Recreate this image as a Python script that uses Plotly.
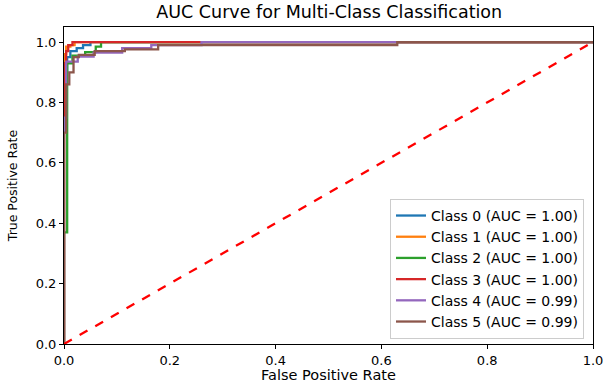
import plotly.graph_objects as go

class_names = ["Class 0", "Class 1", "Class 2", "Class 3", "Class 4", "Class 5"]
auc_values = [1.00, 1.00, 1.00, 1.00, 0.99, 0.99]
colors = ["#1f77b4", "#ff7f0e", "#2ca02c", "#d62728", "#9467bd", "#8c564b"]

fpr_0 = [0.0, 0.0, 0.006, 0.006, 0.012, 0.012, 0.024, 0.024, 0.036, 0.036, 0.05, 0.05, 1.0]
tpr_0 = [0.0, 0.90, 0.90, 0.95, 0.95, 0.97, 0.97, 0.98, 0.98, 0.99, 0.99, 1.0, 1.0]

fpr_1 = [0.0, 0.0, 0.004, 0.004, 0.012, 0.012, 0.02, 0.02, 1.0]
tpr_1 = [0.0, 0.96, 0.96, 0.985, 0.985, 0.99, 0.99, 1.0, 1.0]

fpr_2 = [0.0, 0.0, 0.006, 0.006, 0.016, 0.016, 0.04, 0.04, 0.06, 0.06, 0.07, 0.07, 1.0]
tpr_2 = [0.0, 0.37, 0.37, 0.93, 0.93, 0.955, 0.955, 0.967, 0.967, 0.985, 0.985, 1.0, 1.0]

fpr_3 = [0.0, 0.0, 0.004, 0.004, 0.008, 0.008, 0.016, 0.016, 1.0]
tpr_3 = [0.0, 0.93, 0.93, 0.97, 0.97, 0.99, 0.99, 1.0, 1.0]

fpr_4 = [0.0, 0.0, 0.004, 0.004, 0.026, 0.026, 0.056, 0.056, 0.11, 0.11, 0.165, 0.165, 0.26, 0.26, 1.0]
tpr_4 = [0.0, 0.75, 0.75, 0.935, 0.935, 0.952, 0.952, 0.965, 0.965, 0.98, 0.98, 0.99, 0.99, 1.0, 1.0]

fpr_5 = [0.0, 0.0, 0.004, 0.004, 0.01, 0.01, 0.018, 0.018, 0.028, 0.028, 0.058, 0.058,
         0.115, 0.115, 0.178, 0.178, 0.63, 0.63, 1.0]
tpr_5 = [0.0, 0.70, 0.70, 0.86, 0.86, 0.90, 0.90, 0.95, 0.95, 0.958, 0.958, 0.97,
         0.97, 0.976, 0.976, 0.99, 0.99, 1.0, 1.0]

fpr_list = [fpr_0, fpr_1, fpr_2, fpr_3, fpr_4, fpr_5]
tpr_list = [tpr_0, tpr_1, tpr_2, tpr_3, tpr_4, tpr_5]

diag_x = [0.0, 1.0]
diag_y = [0.0, 1.0]

tick_vals = [0.0, 0.2, 0.4, 0.6, 0.8, 1.0]
tick_text = ["0.0", "0.2", "0.4", "0.6", "0.8", "1.0"]

FONT = "DejaVu Sans"

fig = go.Figure()
for name, auc, c, fx, ty in zip(class_names, auc_values, colors, fpr_list, tpr_list):
    fig.add_trace(go.Scatter(
        x=fx, y=ty, mode="lines",
        line=dict(color=c, width=2.3),
        name=f"{name} (AUC = {auc:.2f})",
    ))
fig.add_trace(go.Scatter(
    x=diag_x, y=diag_y, mode="lines",
    line=dict(color="red", width=2.3, dash="dash"),
    showlegend=False,
))

axis_common = dict(
    showgrid=False, zeroline=False, automargin=False,
    showline=True, linecolor="black", linewidth=1, mirror=True,
    ticks="outside", ticklen=4, tickcolor="black", tickwidth=1,
    tickfont=dict(family=FONT, size=13, color="black"),
    tickvals=tick_vals, ticktext=tick_text,
    ticklabeloverflow="allow",
)

fig.update_layout(
    width=603, height=383,
    margin=dict(l=64, r=10, t=27, b=39),
    paper_bgcolor="white", plot_bgcolor="white",
    font=dict(family=FONT, color="black"),
    title=dict(text="AUC Curve for Multi-Class Classification",
               x=0.546, xanchor="center", y=0.985, yanchor="top",
               font=dict(family=FONT, size=17.5, color="black")),
    xaxis=dict(range=[0, 1], title=dict(text="False Positive Rate",
               font=dict(family=FONT, size=14.5)), **axis_common),
    yaxis=dict(range=[0, 1.05], title=dict(text="True Positive Rate",
               font=dict(family=FONT, size=12.5)), **axis_common),
    legend=dict(
        x=0.983, y=0.016, xanchor="right", yanchor="bottom",
        bgcolor="rgba(255,255,255,0.8)", bordercolor="#cccccc", borderwidth=1,
        font=dict(family=FONT, size=14, color="black"),
        itemwidth=30, tracegroupgap=0,
    ),
)

fig.write_html("out.html")
